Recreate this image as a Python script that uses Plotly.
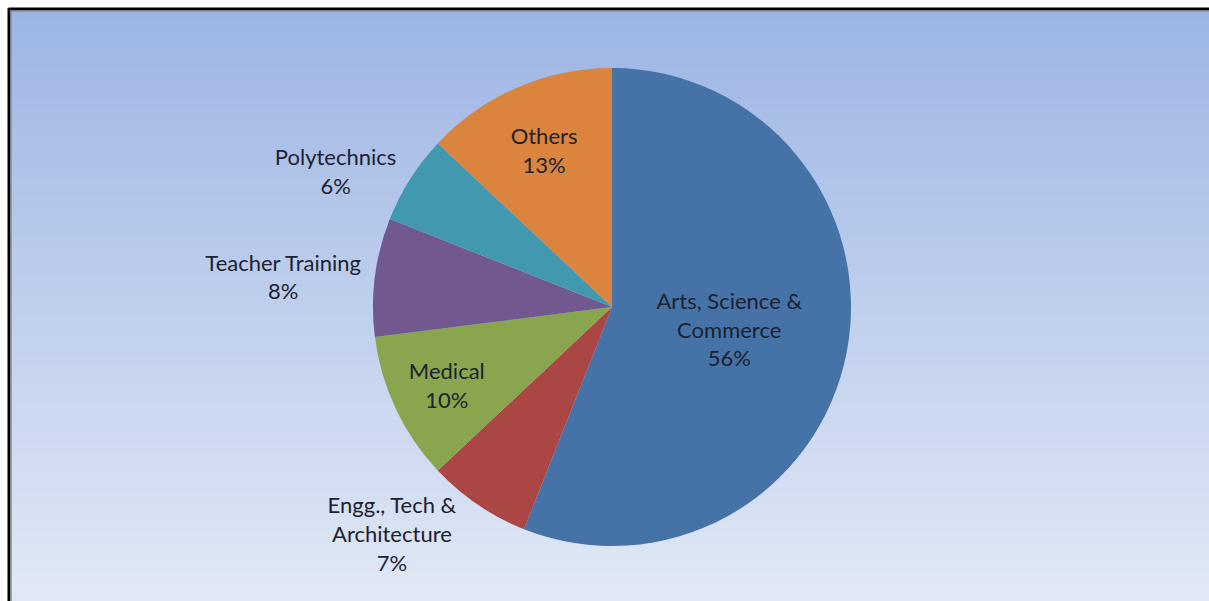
import plotly.graph_objects as go

categories = ["Arts, Science &<br>Commerce", "Engg., Tech &<br>Architecture", "Medical",
              "Teacher Training", "Polytechnics", "Others"]
values = [56, 7, 10, 8, 6, 13]
colors = ["#4572A7", "#AA4643", "#89A54E", "#71588F", "#4198AF", "#DB843D"]
positions = ["inside", "outside", "inside", "outside", "outside", "inside"]

W, H = 1209, 601
cx, cy, r = 612, 307, 239

fig = go.Figure(go.Pie(
    labels=categories, values=values, sort=False, direction="clockwise", rotation=0,
    marker=dict(colors=colors, line=dict(width=0)),
    textposition=positions, texttemplate="%{label}<br>%{percent:.0%}",
    insidetextorientation="horizontal",
    textfont=dict(family="Lato, Open Sans, sans-serif", size=22, color="#1c2230"),
    showlegend=False, hoverinfo="label+percent",
    domain=dict(x=[(cx - r) / W, (cx + r) / W], y=[(H - cy - r) / H, (H - cy + r) / H]),
))

# background gradient
shapes = []
n = 60
top = (157, 181, 228)
bot = (225, 232, 245)
y0 = 591
for i in range(n):
    t = i / (n - 1)
    c = tuple(round(top[k] + (bot[k] - top[k]) * t) for k in range(3))
    ya = y0 - y0 * i / n
    yb = y0 - y0 * (i + 1) / n
    shapes.append(dict(type="rect", xref="paper", yref="paper", layer="below",
                       x0=10 / W, x1=1.0, y0=(yb - 1) / H, y1=ya / H,
                       line=dict(width=0), fillcolor="rgb(%d,%d,%d)" % c))
# border (top and left)
shapes.append(dict(type="line", xref="paper", yref="paper", x0=8.5 / W, x1=1.0,
                   y0=(H - 9) / H, y1=(H - 9) / H, line=dict(color="black", width=3)))
shapes.append(dict(type="line", xref="paper", yref="paper", x0=9 / W, x1=9 / W,
                   y0=0, y1=(H - 8) / H, line=dict(color="black", width=3)))
shapes.append(dict(type="line", xref="paper", yref="paper", x0=11 / W, x1=11 / W,
                   y0=0, y1=(H - 10.5) / H, line=dict(color="#8a8f99", width=1.5)))
shapes.append(dict(type="line", xref="paper", yref="paper", x0=10 / W, x1=1.0,
                   y0=(H - 11) / H, y1=(H - 11) / H, line=dict(color="#8a8f99", width=1.5)))

fig.update_layout(width=W, height=H, margin=dict(l=0, r=0, t=0, b=0),
                  paper_bgcolor="white", plot_bgcolor="white", shapes=shapes)
fig.write_html("out.html")
